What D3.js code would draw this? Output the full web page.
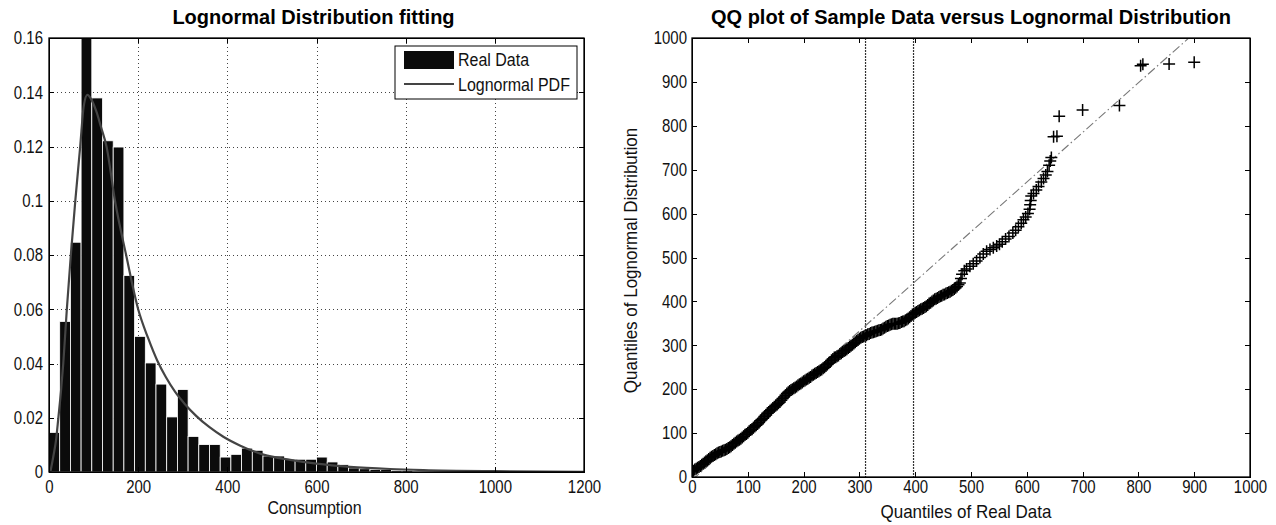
<!DOCTYPE html>
<html lang="en">
<head>
<meta charset="utf-8">
<title>Lognormal fit and QQ plot</title>
<script src="https://cdn.jsdelivr.net/npm/d3@7/dist/d3.min.js"></script>
<style>
  body { margin: 0; background: #fff; }
  svg { display: block; font-family: "Liberation Sans", Arial, sans-serif; }
  .axis path, .axis line { stroke: #000; shape-rendering: crispEdges; }
  .axis text { font-size: 15px; fill: #111; }
  .grid line { stroke: #444; stroke-dasharray: 1,3; shape-rendering: crispEdges; }
  .grid path { display: none; }
  .title { font-size: 20px; font-weight: bold; fill: #000; }
  .label { font-size: 16px; fill: #111; }
</style>
</head>
<body>
<script>
// ---- histogram (left) ----
var binLeft = [0, 24, 48, 72, 96, 120, 144, 168, 192, 216, 240, 264, 288, 312, 336, 360, 384, 408,
               432, 456, 480, 504, 528, 552, 576, 600, 624, 648, 672, 696, 720, 744, 768, 792, 816, 840];
var binHeight = [0.0146, 0.0555, 0.0847, 0.165, 0.1379, 0.1221, 0.1198, 0.0724, 0.0500, 0.0402, 0.0324, 0.0203,
                 0.0304, 0.0131, 0.0101, 0.0101, 0.0055, 0.0065, 0.0088, 0.0080, 0.0059, 0.0059, 0.0047, 0.0047,
                 0.0047, 0.0055, 0.0037, 0.0027, 0.0015, 0.0012, 0.0009, 0.0009, 0.0006, 0.0006, 0.0003, 0.0002];
var binWidth = 24;

// fitted lognormal pdf
var pdfX = [3, 10, 16, 21, 27, 32, 40, 49, 59, 70, 78, 86, 96, 106, 117, 129, 148, 173, 200, 222, 243, 262,
            283, 305, 330, 360, 391, 428, 481, 541, 600, 675, 765, 840, 1000, 1200];
var pdfY = [0, 0.006, 0.012, 0.02, 0.03, 0.04, 0.06, 0.08, 0.10, 0.12, 0.135, 0.139, 0.137, 0.133, 0.127, 0.12,
            0.10, 0.08, 0.06, 0.0495, 0.041, 0.035, 0.0295, 0.025, 0.0207, 0.0165, 0.013, 0.0098, 0.0064, 0.0045,
            0.0031, 0.0019, 0.0011, 0.0007, 0.0003, 0.0001];

var histXTicks = [0, 200, 400, 600, 800, 1000, 1200];
var histYTicks = [0, 0.02, 0.04, 0.06, 0.08, 0.1, 0.12, 0.14, 0.16];
var histYLabels = ["0", "0.02", "0.04", "0.06", "0.08", "0.1", "0.12", "0.14", "0.16"];
var legendItems = ["Real Data", "Lognormal PDF"];

// ---- QQ plot (right): sample quantiles (x) vs lognormal quantiles (y) ----
var qqX = [0, 2.5, 5, 7.5, 10, 12.5, 15, 17.5, 20, 22.5, 25, 27.5, 30, 32.5, 35, 37.5, 40, 42.5, 45, 47.5,
           50, 52.5, 55, 57.5, 60, 62.5, 65, 67.5, 70, 72.5, 75, 77.5, 80, 82.5, 85, 87.5, 90, 92.5, 95, 97.5,
           100, 102.5, 105, 107.5, 110, 112.5, 115, 117.5, 120, 122.5, 125, 127.5, 130, 132.5, 135, 137.5,
           140, 142.5, 145, 147.5, 150, 152.5, 155, 157.5, 160, 162.5, 165, 167.5, 170, 172.5, 175, 177.5,
           180, 182.5, 185, 187.5, 190, 192.5, 195, 197.5, 200, 202.5, 205, 207.5, 210, 212.5, 215, 217.5,
           220, 222.5, 225, 227.5, 230, 232.5, 235, 237.5, 240, 242.5, 245, 247.5, 250, 252.5, 255, 257.5,
           260, 262.5, 265, 267.5, 270, 272.5, 275, 277.5, 280, 282.5, 285, 287.5, 290, 292.5, 295, 297.5,
           300, 302.5, 305, 307.5, 310, 312.5, 315, 317.5, 320, 322.5, 325, 327.5, 330, 332.5, 335, 337.5,
           340, 342.5, 345, 347.5, 350, 352.5, 355, 357.5, 360, 362.5, 365, 367.5, 370, 372.5, 375, 377.5,
           380, 382.5, 385, 387.5, 390, 392.5, 395, 397.5, 400, 402.5, 405, 407.5, 410, 412.5, 415, 417.5,
           420, 422.5, 425, 427.5, 430, 432.5, 435, 437.5, 440, 442.5, 445, 447.5, 450, 452.5, 455, 457.5,
           460, 462.5, 465, 467.5, 470, 472.5, 475, 477.5, 480,
           482, 484, 488, 492, 498, 504, 510, 516, 522, 528, 534, 540, 546, 551, 556, 562, 568,
           575, 580, 585, 590, 594, 598, 602, 605, 606, 607, 608, 612, 617, 621, 626, 630, 634, 637, 640, 642,
           644, 648, 654, 658, 700, 766, 804, 808, 855, 900];
var qqY = [12, 14, 17, 19, 21, 23, 25, 28, 30, 33, 36, 38, 41, 44, 46, 48, 50, 52, 54, 56,
           57, 58, 60, 61, 62, 64, 66, 68, 70, 73, 76, 78, 81, 83, 85, 87, 90, 93, 96, 98,
           101, 104, 107, 109, 112, 115, 118, 121, 124, 128, 131, 134, 138, 141, 145, 148,
           151, 154, 157, 160, 163, 165, 168, 171, 175, 179, 182, 186, 190, 193, 196, 198,
           200, 202, 204, 206, 209, 211, 213, 215, 218, 220, 222, 224, 226, 228, 231, 233,
           235, 237, 239, 241, 243, 245, 248, 250, 253, 256, 259, 262, 266, 269, 272, 273,
           275, 277, 280, 282, 285, 287, 289, 291, 294, 296, 299, 301, 304, 307, 310, 312,
           315, 317, 319, 320, 322, 323, 325, 326, 328, 329, 330, 331, 332, 333, 334, 335,
           336, 338, 340, 342, 344, 345, 347, 348, 349, 349, 349, 349, 350, 351, 353, 354,
           355, 357, 359, 361, 364, 367, 370, 372, 374, 376, 378, 380, 382, 383, 385, 387,
           389, 392, 395, 397, 400, 402, 405, 406, 408, 410, 412, 413, 415, 416, 418, 419,
           421, 422, 424, 426, 428, 431, 434, 438, 442,
           452, 462, 470, 474, 480, 486, 492, 500, 508, 514, 518, 522, 526, 530, 536, 542, 548,
           556, 562, 570, 578, 586, 592, 600, 610, 620, 630, 640, 646, 654, 662, 672, 680, 688, 696, 710, 720,
           728, 775, 776, 822, 836, 846, 937, 940, 941, 945];
var refLineX = [0, 900];
var refLineY = [-7, 1011];
var markLines = [311, 397];
var qqTicks = [0, 100, 200, 300, 400, 500, 600, 700, 800, 900, 1000];

var W = 1276, H = 525;
var svg = d3.select("body").append("svg").attr("width", W).attr("height", H);

// the source figure has slightly tall lettering
function stretch(sel, k) {
  sel.each(function() {
    var t = d3.select(this);
    var y = +t.attr("y") || 0;
    var pre = t.attr("transform") || "";
    t.attr("transform", pre + " translate(0," + y + ") scale(1," + k + ") translate(0," + (-y) + ")");
  });
}

// ================= left: histogram =================
var L = { x0: 49, x1: 584, y0: 38, y1: 472 };
var xL = d3.scaleLinear().domain([0, 1200]).range([L.x0, L.x1]);
var yL = d3.scaleLinear().domain([0, 0.16]).range([L.y1, L.y0]);

svg.append("clipPath").attr("id", "clipL")
   .append("rect").attr("x", L.x0).attr("y", L.y0).attr("width", L.x1 - L.x0).attr("height", L.y1 - L.y0);

// grid
svg.append("g").attr("class", "grid")
   .attr("transform", "translate(0," + L.y1 + ")")
   .call(d3.axisBottom(xL).tickValues(histXTicks.slice(1, -1)).tickSize(-(L.y1 - L.y0)).tickFormat(""));
svg.append("g").attr("class", "grid")
   .attr("transform", "translate(" + L.x0 + ",0)")
   .call(d3.axisLeft(yL).tickValues(histYTicks.slice(1, -1)).tickSize(-(L.x1 - L.x0)).tickFormat(""));

var gL = svg.append("g").attr("clip-path", "url(#clipL)");
gL.selectAll("rect.bar")
  .data(binLeft)
  .enter()
  .append("rect")
  .attr("class", "bar")
  .attr("x", function(d) { return xL(d); })
  .attr("y", function(d, i) { return yL(binHeight[i]); })
  .attr("width", function(d) { return xL(d + binWidth) - xL(d); })
  .attr("height", function(d, i) { return yL(0) - yL(binHeight[i]); })
  .attr("fill", "#0b0b0b")
  .attr("stroke", "#fff")
  .attr("stroke-width", 0.8);

var pdfLine = d3.line()
  .x(function(d, i) { return xL(pdfX[i]); })
  .y(function(d) { return yL(d); })
  .curve(d3.curveMonotoneX);
gL.append("path")
  .attr("d", pdfLine(pdfY))
  .attr("fill", "none")
  .attr("stroke", "#444")
  .attr("stroke-width", 2.2);

// axes (inward ticks, mirrored)
function fmtL(d) { return histYLabels[histYTicks.indexOf(d)]; }
var axB = svg.append("g").attr("class", "axis")
   .attr("transform", "translate(0," + L.y1 + ")")
   .call(d3.axisBottom(xL).tickValues(histXTicks).tickFormat(d3.format("d")).tickSize(-5).tickPadding(8).tickSizeOuter(0));
var axLft = svg.append("g").attr("class", "axis")
   .attr("transform", "translate(" + L.x0 + ",0)")
   .call(d3.axisLeft(yL).tickValues(histYTicks).tickFormat(fmtL).tickSize(-5).tickPadding(6).tickSizeOuter(0));
stretch(axB.selectAll("text"), 1.2);
stretch(axLft.selectAll("text"), 1.2);
svg.append("g").attr("class", "axis")
   .attr("transform", "translate(0," + L.y0 + ")")
   .call(d3.axisTop(xL).tickValues(histXTicks).tickSize(-5).tickFormat("").tickSizeOuter(0));
svg.append("g").attr("class", "axis")
   .attr("transform", "translate(" + L.x1 + ",0)")
   .call(d3.axisRight(yL).tickValues(histYTicks).tickSize(-5).tickFormat("").tickSizeOuter(0));
svg.append("rect")
   .attr("x", L.x0).attr("y", L.y0).attr("width", L.x1 - L.x0).attr("height", L.y1 - L.y0)
   .attr("fill", "none").attr("stroke", "#000").attr("stroke-width", 1.3);

svg.append("text").attr("class", "title")
   .attr("x", (L.x0 + L.x1) / 2 - 3).attr("y", 24)
   .attr("text-anchor", "middle")
   .text("Lognormal Distribution fitting");
stretch(svg.append("text").attr("class", "label")
   .attr("x", (L.x0 + L.x1) / 2 - 2).attr("y", 514)
   .attr("text-anchor", "middle")
   .text("Consumption"), 1.12);

// legend
var lg = svg.append("g").attr("transform", "translate(395,46)");
lg.append("rect").attr("width", 182).attr("height", 53)
  .attr("fill", "#fff").attr("stroke", "#000").attr("stroke-width", 1);
lg.append("rect").attr("x", 9).attr("y", 5).attr("width", 50).attr("height", 18).attr("fill", "#0b0b0b");
lg.append("line").attr("x1", 9).attr("x2", 59).attr("y1", 38).attr("y2", 38)
  .attr("stroke", "#444").attr("stroke-width", 2.2);
stretch(lg.selectAll("text.leg")
  .data(legendItems)
  .enter()
  .append("text")
  .attr("class", "label leg")
  .attr("x", 63)
  .attr("y", function(d, i) { return 20 + i * 25; })
  .text(function(d) { return d; }), 1.12);

// ================= right: QQ plot =================
var R = { x0: 692, x1: 1250, y0: 38, y1: 477 };
var xR = d3.scaleLinear().domain([0, 1000]).range([R.x0, R.x1]);
var yR = d3.scaleLinear().domain([0, 1000]).range([R.y1, R.y0]);

svg.append("clipPath").attr("id", "clipR")
   .append("rect").attr("x", R.x0).attr("y", R.y0).attr("width", R.x1 - R.x0).attr("height", R.y1 - R.y0);
var gR = svg.append("g").attr("clip-path", "url(#clipR)");

gR.selectAll("line.mark")
  .data(markLines)
  .enter()
  .append("line")
  .attr("x1", function(d) { return xR(d); })
  .attr("x2", function(d) { return xR(d); })
  .attr("y1", R.y0).attr("y2", R.y1)
  .attr("stroke", "#333")
  .attr("stroke-width", 1.2)
  .attr("stroke-dasharray", "2,1");

gR.append("line")
  .attr("x1", xR(refLineX[0])).attr("y1", yR(refLineY[0]))
  .attr("x2", xR(refLineX[1])).attr("y2", yR(refLineY[1]))
  .attr("stroke", "#777")
  .attr("stroke-width", 1.1)
  .attr("stroke-dasharray", "9,3,1.5,3");

gR.selectAll("path.pt")
  .data(qqX)
  .enter()
  .append("path")
  .attr("class", "pt")
  .attr("transform", function(d, i) { return "translate(" + xR(d) + "," + yR(qqY[i]) + ")"; })
  .attr("d", "M-6,0H6M0,-6V6")
  .attr("stroke", "#000")
  .attr("stroke-width", 1.5)
  .attr("fill", "none");

var axRB = svg.append("g").attr("class", "axis")
   .attr("transform", "translate(0," + R.y1 + ")")
   .call(d3.axisBottom(xR).tickValues(qqTicks).tickFormat(d3.format("d")).tickSize(-5).tickPadding(3).tickSizeOuter(0));
var axRL = svg.append("g").attr("class", "axis")
   .attr("transform", "translate(" + R.x0 + ",0)")
   .call(d3.axisLeft(yR).tickValues(qqTicks).tickFormat(d3.format("d")).tickSize(-5).tickPadding(5).tickSizeOuter(0));
stretch(axRB.selectAll("text"), 1.2);
stretch(axRL.selectAll("text"), 1.2);
svg.append("g").attr("class", "axis")
   .attr("transform", "translate(0," + R.y0 + ")")
   .call(d3.axisTop(xR).tickValues(qqTicks).tickSize(-5).tickFormat("").tickSizeOuter(0));
svg.append("g").attr("class", "axis")
   .attr("transform", "translate(" + R.x1 + ",0)")
   .call(d3.axisRight(yR).tickValues(qqTicks).tickSize(-5).tickFormat("").tickSizeOuter(0));
svg.append("rect")
   .attr("x", R.x0).attr("y", R.y0).attr("width", R.x1 - R.x0).attr("height", R.y1 - R.y0)
   .attr("fill", "none").attr("stroke", "#000").attr("stroke-width", 1.3);

svg.append("text").attr("class", "title")
   .attr("x", (R.x0 + R.x1) / 2).attr("y", 24)
   .attr("text-anchor", "middle")
   .text("QQ plot of Sample Data versus Lognormal Distribution");
stretch(svg.append("text").attr("class", "label")
   .attr("x", (R.x0 + R.x1) / 2 - 5).attr("y", 518)
   .attr("text-anchor", "middle")
   .style("font-size", "17px")
   .text("Quantiles of Real Data"), 1.08);
svg.append("text").attr("class", "label")
   .attr("transform", "translate(637," + ((R.y0 + R.y1) / 2 + 3) + ") rotate(-90) scale(1,1.1)")
   .attr("text-anchor", "middle")
   .style("font-size", "17px")
   .text("Quantiles of Lognormal Distribution");
</script>
</body>
</html>
